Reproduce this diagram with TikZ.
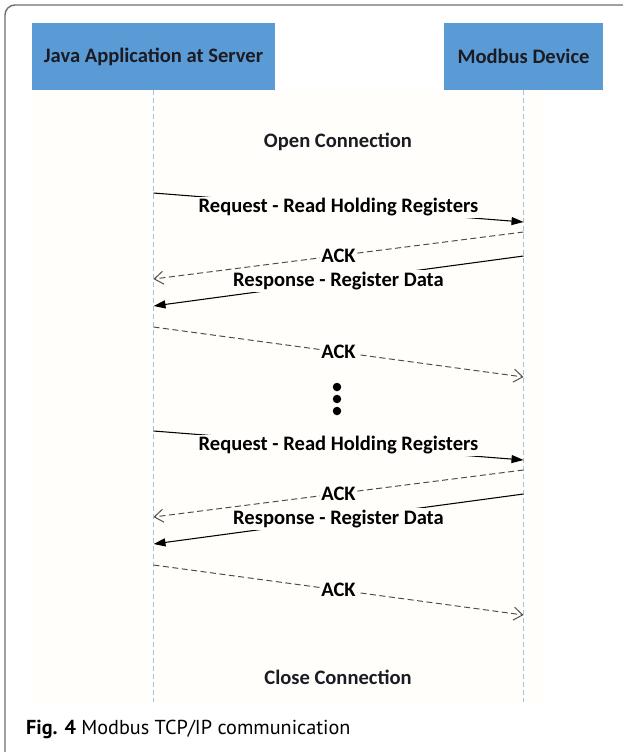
\documentclass[tikz,border=0pt]{standalone}
\usepackage{fontspec}
\setmainfont{Carlito}
\newfontfamily\capfont{PT Sans}
\usetikzlibrary{arrows.meta}
\definecolor{Box}{HTML}{5B9BD5}
\definecolor{Life}{HTML}{9CC2E5}
\definecolor{Frame}{HTML}{6E6E6E}
\definecolor{Paper}{HTML}{FFFEFB}
\definecolor{Ink}{HTML}{1B1B24}

\begin{document}
\begin{tikzpicture}[x=0.02cm,y=-0.02cm,
    actor/.style={fill=Box,minimum height=1.34cm,align=center,text=Ink,
                  font=\fontsize{11.7}{14}\selectfont\bfseries},
    life/.style={Life,line width=0.5pt,dash pattern=on 0.09cm off 0.07cm},
    msg/.style={line width=0.6pt,-{Triangle[length=0.24cm,width=0.16cm]}},
    ack/.style={line width=0.55pt,black!70,dash pattern=on 0.12cm off 0.07cm,
                -{Straight Barb[length=0.18cm,width=0.26cm]}},
    lbl/.style={midway,fill=Paper,inner sep=1pt,text=black,
                font=\fontsize{11.7}{14}\selectfont\bfseries},
    phase/.style={text=Ink,font=\fontsize{11.7}{14}\selectfont\bfseries}
  ]
    \useasboundingbox (0,0) rectangle (623,752);
    \fill[Paper] (32,90) rectangle (545,703);
    \draw[Frame,line width=0.8pt,rounded corners=0.2cm] (640,5) -- (5,5) -- (5,770);
    % lifelines
    \node[actor,minimum width=4.86cm] (java) at (153.5,56.5) {Java Application at Server};
    \node[actor,minimum width=3.18cm] (dev) at (523.5,56.5) {Modbus Device};
    \coordinate (javaEnd) at (153.5,702);
    \coordinate (devEnd) at (523.5,702);
    \draw[life] (java.south) -- (javaEnd);
    \draw[life] (dev.south) -- (devEnd);
    \node[phase] (open) at (338,142) {Open Connection};
    \node[phase] (close) at (338,677) {Close Connection};
    % two read cycles
    \foreach \dy [count=\i] in {0,238}{
      \begin{scope}[shift={(0,\dy)}]
        \coordinate (reqA\i) at (153.5,193);
        \coordinate (reqB\i) at (523.5,222);
        \coordinate (ackA\i) at (523.5,232);
        \coordinate (ackB\i) at (153.5,279);
        \coordinate (resA\i) at (523.5,256);
        \coordinate (resB\i) at (153.5,306);
        \coordinate (okA\i) at (153.5,327);
        \coordinate (okB\i) at (523.5,377);
        \draw[msg] (reqA\i) -- node[lbl] (req\i) {Request - Read Holding Registers} (reqB\i);
        \draw[ack] (ackA\i) -- node[lbl] (ack\i) {ACK} (ackB\i);
        \draw[msg] (resA\i) -- node[lbl] (res\i) {Response - Register Data} (resB\i);
        \draw[ack] (okA\i) -- node[lbl] (ok\i) {ACK} (okB\i);
      \end{scope}
    }
    \foreach \y in {387,399,411} \fill (337,\y) circle (0.085cm);
    \node[anchor=west,font=\capfont\fontsize{11.5}{14}\selectfont] (cap) at (20,729)
      {\textbf{Fig. 4} Modbus TCP/IP communication};
\end{tikzpicture}
\end{document}
